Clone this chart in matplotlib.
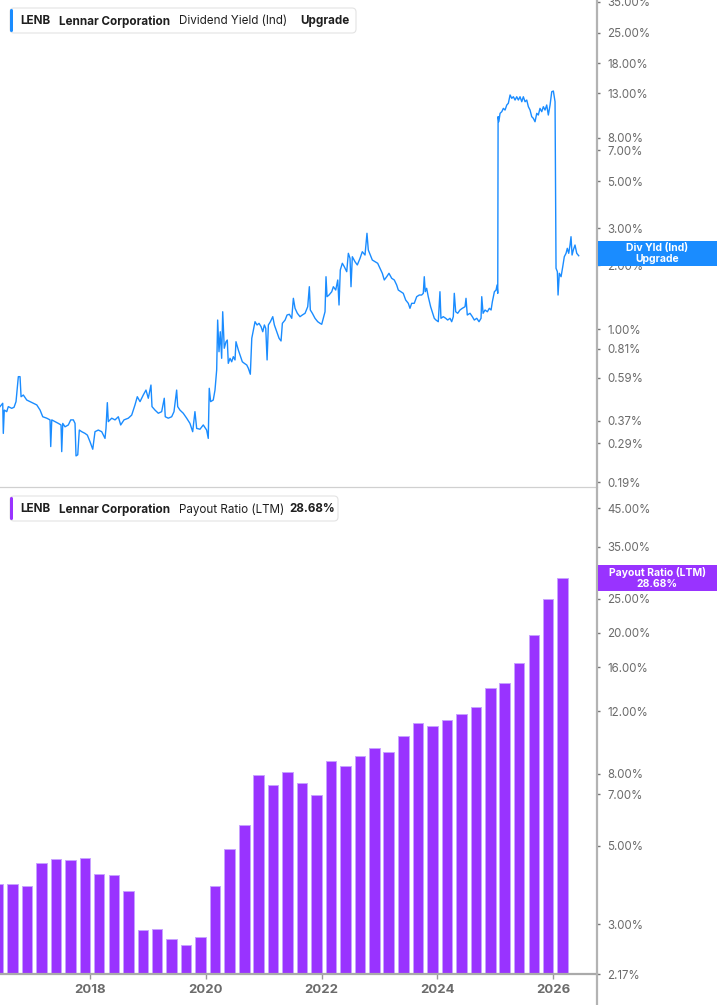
import matplotlib
matplotlib.use("Agg")
import matplotlib.pyplot as plt
import matplotlib.dates as mdates
from matplotlib.patches import FancyBboxPatch, Rectangle
from matplotlib.lines import Line2D
from matplotlib.transforms import IdentityTransform
from matplotlib.ticker import FixedLocator, NullLocator, NullFormatter
from datetime import datetime

plt.rcParams['font.family'] = ['Inter', 'DejaVu Sans']

# ---------------- data ----------------
# Dividend yield (Ind), % -- decimal year / value pairs
div_year = [
    2016.446, 2016.493, 2016.503, 2016.520, 2016.562, 2016.589, 2016.648, 2016.688, 2016.722, 2016.762,
    2016.791, 2016.809, 2016.848, 2016.907, 2016.964, 2017.021, 2017.080, 2017.137, 2017.183, 2017.252,
    2017.309, 2017.321, 2017.339, 2017.396, 2017.453, 2017.499, 2017.511, 2017.529, 2017.568, 2017.625,
    2017.667, 2017.712, 2017.741, 2017.758, 2017.788, 2017.815, 2017.857, 2017.914, 2017.954, 2018.000,
    2018.047, 2018.086, 2018.143, 2018.202, 2018.259, 2018.276, 2018.299, 2018.316, 2018.375, 2018.432,
    2018.489, 2018.530, 2018.587, 2018.662, 2018.720, 2018.777, 2018.817, 2018.864, 2018.920, 2018.967,
    2019.007, 2019.053, 2019.071, 2019.123, 2019.180, 2019.238, 2019.283, 2019.300, 2019.352, 2019.411,
    2019.451, 2019.497, 2019.515, 2019.554, 2019.611, 2019.670, 2019.727, 2019.774, 2019.813, 2019.843,
    2019.900, 2019.957, 2020.015, 2020.043, 2020.060, 2020.084, 2020.129, 2020.159, 2020.188, 2020.205,
    2020.228, 2020.250, 2020.274, 2020.292, 2020.319, 2020.349, 2020.371, 2020.388, 2020.418, 2020.447,
    2020.475, 2020.504, 2020.521, 2020.561, 2020.590, 2020.630, 2020.665, 2020.706, 2020.734, 2020.768,
    2020.793, 2020.820, 2020.849, 2020.884, 2020.918, 2020.953, 2020.982, 2021.010, 2021.034, 2021.057,
    2021.079, 2021.114, 2021.155, 2021.183, 2021.224, 2021.264, 2021.298, 2021.321, 2021.368, 2021.402,
    2021.442, 2021.483, 2021.511, 2021.540, 2021.580, 2021.626, 2021.666, 2021.713, 2021.759, 2021.787,
    2021.804, 2021.839, 2021.885, 2021.932, 2021.972, 2022.001, 2022.029, 2022.058, 2022.075, 2022.093,
    2022.127, 2022.174, 2022.202, 2022.243, 2022.278, 2022.300, 2022.322, 2022.357, 2022.391, 2022.433,
    2022.461, 2022.490, 2022.507, 2022.530, 2022.576, 2022.616, 2022.663, 2022.702, 2022.749, 2022.783,
    2022.806, 2022.840, 2022.875, 2022.922, 2022.968, 2023.008, 2023.048, 2023.082, 2023.124, 2023.163,
    2023.210, 2023.255, 2023.296, 2023.324, 2023.370, 2023.410, 2023.452, 2023.497, 2023.526, 2023.555,
    2023.600, 2023.642, 2023.687, 2023.728, 2023.756, 2023.773, 2023.790, 2023.814, 2023.842, 2023.883,
    2023.918, 2023.946, 2023.975, 2024.015, 2024.044, 2024.061, 2024.101, 2024.143, 2024.177, 2024.217,
    2024.246, 2024.274, 2024.291, 2024.315, 2024.350, 2024.389, 2024.429, 2024.476, 2024.493, 2024.515,
    2024.562, 2024.602, 2024.636, 2024.678, 2024.717, 2024.752, 2024.764, 2024.787, 2024.821, 2024.861,
    2024.895, 2024.925, 2024.947, 2024.982, 2025.011, 2025.028, 2025.040, 2025.046, 2025.058, 2025.080,
    2025.110, 2025.137, 2025.166, 2025.196, 2025.223, 2025.253, 2025.282, 2025.310, 2025.339, 2025.368,
    2025.396, 2025.425, 2025.455, 2025.482, 2025.512, 2025.541, 2025.569, 2025.598, 2025.627, 2025.655,
    2025.684, 2025.714, 2025.741, 2025.770, 2025.800, 2025.828, 2025.857, 2025.886, 2025.914, 2025.944,
    2025.973, 2026.001, 2026.030, 2026.047, 2026.070, 2026.082, 2026.104, 2026.134, 2026.163, 2026.190,
    2026.220, 2026.242, 2026.266, 2026.289, 2026.306, 2026.324, 2026.346, 2026.375, 2026.405, 2026.439,
]
div_yield = [
    0.432, 0.448, 0.323, 0.416, 0.409, 0.432, 0.424, 0.429, 0.456, 0.598,
    0.598, 0.481, 0.490, 0.464, 0.456, 0.448, 0.440, 0.416, 0.387, 0.381,
    0.374, 0.280, 0.374, 0.367, 0.360, 0.354, 0.265, 0.360, 0.347, 0.354,
    0.374, 0.374, 0.360, 0.253, 0.256, 0.335, 0.329, 0.323, 0.317, 0.295,
    0.272, 0.329, 0.335, 0.329, 0.306, 0.341, 0.451, 0.367, 0.381, 0.374,
    0.387, 0.354, 0.374, 0.381, 0.394, 0.440, 0.481, 0.456, 0.490, 0.517,
    0.473, 0.546, 0.432, 0.416, 0.402, 0.409, 0.473, 0.387, 0.381, 0.387,
    0.409, 0.517, 0.432, 0.416, 0.402, 0.381, 0.360, 0.329, 0.409, 0.341,
    0.338, 0.354, 0.335, 0.306, 0.527, 0.456, 0.464, 0.517, 0.643, 1.106,
    0.784, 0.974, 0.730, 1.210, 0.814, 0.874, 0.890, 0.691, 0.730, 0.703,
    0.743, 0.717, 0.874, 0.799, 0.757, 0.703, 0.691, 0.679, 0.655, 0.614,
    0.907, 0.992, 1.086, 1.048, 1.067, 1.029, 0.974, 1.048, 1.011, 0.717,
    1.048, 1.086, 1.147, 1.048, 0.974, 0.907, 0.881, 1.067, 1.106, 1.168,
    1.177, 1.127, 1.400, 1.256, 1.190, 1.147, 1.168, 1.190, 1.278, 1.588,
    1.233, 1.190, 1.127, 1.086, 1.067, 1.056, 1.127, 1.210, 1.770, 1.425,
    1.451, 1.504, 1.588, 1.532, 1.708, 1.302, 1.904, 2.048, 1.973, 1.869,
    2.282, 2.161, 1.588, 2.199, 2.083, 2.011, 2.161, 2.322, 2.240, 2.836,
    2.365, 2.240, 2.122, 2.083, 2.048, 1.940, 1.837, 1.708, 1.770, 1.837,
    1.740, 1.708, 1.618, 1.532, 1.504, 1.478, 1.374, 1.326, 1.256, 1.326,
    1.326, 1.425, 1.451, 1.451, 1.478, 1.770, 1.504, 1.561, 1.425, 1.278,
    1.190, 1.127, 1.106, 1.086, 1.504, 1.127, 1.147, 1.127, 1.106, 1.127,
    1.086, 1.147, 1.478, 1.210, 1.190, 1.233, 1.256, 1.278, 1.400, 1.168,
    1.190, 1.147, 1.106, 1.127, 1.086, 1.127, 1.425, 1.190, 1.233, 1.210,
    1.256, 1.233, 1.349, 1.504, 1.532, 1.618, 1.478, 10.06, 9.52, 10.43,
    10.62, 11.01, 10.81, 11.42, 11.63, 12.73, 12.28, 12.49, 12.05, 12.49,
    12.05, 12.49, 11.83, 12.49, 11.83, 12.05, 11.21, 10.81, 10.06, 9.88,
    9.52, 10.43, 10.24, 11.01, 10.62, 11.21, 10.81, 11.42, 10.24, 11.42,
    13.19, 13.29, 11.83, 1.940, 1.869, 1.451, 1.837, 1.770, 1.973, 2.199,
    2.282, 2.409, 2.282, 2.497, 2.733, 2.240, 2.365, 2.497, 2.282, 2.223,
]

# Payout ratio (LTM), % -- fiscal quarter ends
payout_dates = [
    "2016-05-31", "2016-08-31", "2016-11-30", "2017-02-28", "2017-05-31", "2017-08-31", "2017-11-30",
    "2018-02-28", "2018-05-31", "2018-08-31", "2018-11-30", "2019-02-28", "2019-05-31", "2019-08-31",
    "2019-11-30", "2020-02-29", "2020-05-31", "2020-08-31", "2020-11-30", "2021-02-28", "2021-05-31",
    "2021-08-31", "2021-11-30", "2022-02-28", "2022-05-31", "2022-08-31", "2022-11-30", "2023-02-28",
    "2023-05-31", "2023-08-31", "2023-11-30", "2024-02-29", "2024-05-31", "2024-08-31", "2024-11-30",
    "2025-02-28", "2025-05-31", "2025-08-31", "2025-11-30", "2026-02-28",
]
payout_ratio = [
    3.89, 3.91, 3.85, 4.46, 4.58, 4.55, 4.61, 4.15, 4.13, 3.73,
    2.89, 2.90, 2.72, 2.62, 2.77, 3.86, 4.91, 5.72, 7.92, 7.42,
    8.06, 7.53, 6.97, 8.66, 8.41, 9.00, 9.46, 9.22, 10.19, 11.09,
    10.90, 11.33, 11.78, 12.33, 13.96, 14.45, 16.39, 19.67, 25.00, 28.68,
]

top_ticks = [0.19, 0.29, 0.37, 0.59, 0.81, 1.00, 2.00, 3.00, 5.00, 7.00, 8.00, 13.00, 18.00, 25.00, 35.00]
bot_ticks = [2.17, 3.00, 5.00, 7.00, 8.00, 12.00, 16.00, 20.00, 25.00, 35.00, 45.00]
year_ticks = [2018, 2020, 2022, 2024, 2026]

# ---------------- helpers ----------------
W, H = 717, 1005


def dec_to_dt(y):
    yr = int(y)
    start = datetime(yr, 1, 1)
    end = datetime(yr + 1, 1, 1)
    return start + (end - start) * (y - yr)


def fx(x):
    return x / W


def fy(y):
    return 1 - y / H


fig = plt.figure(figsize=(W / 100, H / 100), dpi=100)
fig.patch.set_facecolor('white')

right_px = 597
ax1 = fig.add_axes([0, fy(487), fx(right_px), 487 / H])
ax2 = fig.add_axes([0, fy(974), fx(right_px), (974 - 490) / H])

xmin = dec_to_dt(2016.446)
xmax = dec_to_dt(2026.755)

tick_color = '#6b6b6b'

# ---------- top panel ----------
xd = [dec_to_dt(v) for v in div_year]
ax1.plot(xd, div_yield, color='#1a8cff', lw=1.0, solid_joinstyle='round')
ax1.set_yscale('log')
ax1.set_ylim(0.1805, 35.7)
ax1.set_xlim(xmin, xmax)

# ---------- bottom panel ----------
xb = [datetime.strptime(d, "%Y-%m-%d") for d in payout_dates]
ax2.set_yscale('log')
ymin_b = 2.17
ax2.bar(xb, [v - ymin_b for v in payout_ratio], bottom=ymin_b, width=66,
        color='#9933ff', edgecolor='#c7a2ff', linewidth=0.7, zorder=2)
ax2.set_ylim(ymin_b, 50.7)
ax2.set_xlim(xmin, xmax)

for ax, ticks in ((ax1, top_ticks), (ax2, bot_ticks)):
    for s in ax.spines.values():
        s.set_visible(False)
    ax.yaxis.tick_right()
    ax.yaxis.set_major_locator(FixedLocator(ticks))
    ax.yaxis.set_minor_locator(NullLocator())
    ax.yaxis.set_minor_formatter(NullFormatter())
    ax.set_yticklabels(['%.2f%%' % t for t in ticks])
    ax.tick_params(axis='y', which='major', direction='out', length=2.5, width=1.0,
                   color='#777777', pad=5, labelsize=8.3, labelcolor=tick_color)
    ax.set_facecolor('none')

ax1.set_xticks([])
ax1.tick_params(axis='x', length=0)

ax2.set_xticks([datetime(y, 1, 1) for y in year_ticks])
ax2.set_xticklabels([str(y) for y in year_ticks])
ax2.tick_params(axis='x', direction='out', length=3.5, width=1.0, color='#999999',
                pad=4, labelsize=9.5, labelcolor=tick_color)
for lbl in ax2.get_xticklabels():
    lbl.set_fontweight('bold')
ax2.spines['bottom'].set_visible(True)
ax2.spines['bottom'].set_color('#aaaaaa')
ax2.spines['bottom'].set_linewidth(1.6)

# separator line between panels and right axis line
fig.add_artist(Line2D([0, fx(right_px)], [fy(487), fy(487)], transform=fig.transFigure,
                      color='#d0d0d0', lw=0.9))
fig.add_artist(Line2D([fx(right_px), fx(right_px)], [0, 1], transform=fig.transFigure,
                      color='#b3b3b3', lw=1.6))

# ---------- legend boxes ----------
def legend_box(y0, y1, x1, color, parts):
    box = FancyBboxPatch((10, H - y1), x1 - 10, y1 - y0,
                         boxstyle="round,pad=0,rounding_size=4", transform=IdentityTransform(),
                         facecolor='white', edgecolor='#e3e3e3', lw=0.8, zorder=5)
    fig.add_artist(box)
    bar = FancyBboxPatch((10, H - y1 + 1), 3, y1 - y0 - 2,
                         boxstyle="round,pad=0,rounding_size=1.5", transform=IdentityTransform(),
                         facecolor=color, edgecolor='none', zorder=6)
    fig.add_artist(bar)
    yc = (y0 + y1) / 2 + 0.8
    for x, s, w in parts:
        fig.text(fx(x), fy(yc), s, ha='left', va='center', fontsize=8.4,
                 fontweight=w, color='#1f1f1f', zorder=7)


legend_box(8, 33, 356, '#1a8cff', [
    (20, 'LENB', 'bold'), (59.3, 'Lennar Corporation', 'bold'),
    (179.3, 'Dividend Yield (Ind)', 'normal'), (300, 'Upgrade', 'bold')])
legend_box(496, 521, 338, '#9933ff', [
    (20.5, 'LENB', 'bold'), (59.3, 'Lennar Corporation', 'bold'),
    (179.3, 'Payout Ratio (LTM)', 'normal'), (289.3, '28.68%', 'bold')])

# ---------- right-side value labels ----------
def value_tag(y0, y1, color, line1, line2):
    fig.add_artist(Rectangle((598, H - y1), W - 598, y1 - y0, transform=IdentityTransform(),
                             facecolor=color, edgecolor='none', zorder=5))
    xc = (598 + W) / 2
    fig.text(fx(xc), fy(y0 + (y1 - y0) * 0.3), line1, ha='center', va='center',
             fontsize=7.5, fontweight='bold', color='white', zorder=6)
    fig.text(fx(xc), fy(y0 + (y1 - y0) * 0.72), line2, ha='center', va='center',
             fontsize=7.5, fontweight='bold', color='white', zorder=6)


value_tag(241, 266, '#1a8cff', 'Div Yld (Ind)', 'Upgrade')
value_tag(565, 591, '#9933ff', 'Payout Ratio (LTM)', '28.68%')

fig.savefig('out.png', dpi=100, facecolor='white')
